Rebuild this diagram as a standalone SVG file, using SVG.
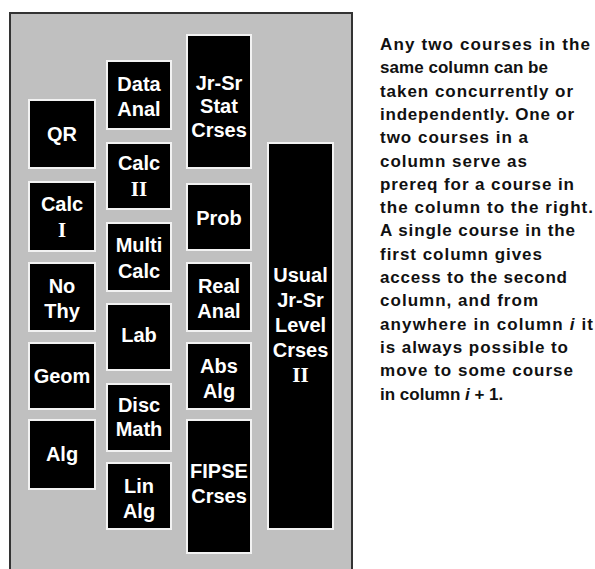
<svg xmlns="http://www.w3.org/2000/svg" width="595" height="569" viewBox="0 0 595 569">
<style>
.box{fill:#000;stroke:#f2f2f2;stroke-width:2}
.bt{fill:#fff;font-family:"Liberation Sans",Arial,sans-serif;font-weight:bold;font-size:20px;text-anchor:middle}
.rn{font-family:"Liberation Serif","Times New Roman",serif;font-weight:bold;font-size:21px}
.note{fill:#111;font-family:"Liberation Sans",Arial,sans-serif;font-weight:bold;font-size:17px}
</style>
<rect x="0" y="0" width="595" height="569" fill="#fff"/>
<rect id="frame" x="10" y="13" width="342" height="570" fill="#c0c0c0" stroke="#333" stroke-width="2"/>
<g id="connectors"></g>
<g id="QR"><rect class="box" x="29" y="100" width="66" height="68"/><text class="bt" x="62" y="141">QR</text></g>
<g id="CalcI"><rect class="box" x="29" y="182" width="66" height="69"/><text class="bt" x="62" y="211">Calc</text><text class="bt rn" x="62" y="237">I</text></g>
<g id="NoThy"><rect class="box" x="29" y="263" width="66" height="68"/><text class="bt" x="62" y="293">No</text><text class="bt" x="62" y="318">Thy</text></g>
<g id="Geom"><rect class="box" x="29" y="343" width="66" height="66"/><text class="bt" x="62" y="383">Geom</text></g>
<g id="Alg"><rect class="box" x="29" y="420" width="66" height="69"/><text class="bt" x="62" y="461">Alg</text></g>
<g id="DataAnal"><rect class="box" x="107" y="61" width="64" height="68"/><text class="bt" x="139" y="91">Data</text><text class="bt" x="139" y="116">Anal</text></g>
<g id="CalcII"><rect class="box" x="107" y="143" width="64" height="66"/><text class="bt" x="139" y="170">Calc</text><text class="bt rn" x="139" y="196">II</text></g>
<g id="MultiCalc"><rect class="box" x="107" y="223" width="64" height="68"/><text class="bt" x="139" y="252">Multi</text><text class="bt" x="139" y="278">Calc</text></g>
<g id="Lab"><rect class="box" x="107" y="304" width="64" height="66"/><text class="bt" x="139" y="342">Lab</text></g>
<g id="DiscMath"><rect class="box" x="107" y="384" width="64" height="67"/><text class="bt" x="139" y="412">Disc</text><text class="bt" x="139" y="436">Math</text></g>
<g id="LinAlg"><rect class="box" x="107" y="463" width="64" height="66"/><text class="bt" x="139" y="493">Lin</text><text class="bt" x="139" y="518">Alg</text></g>
<g id="JrSrStat"><rect class="box" x="187" y="35" width="64" height="133"/><text class="bt" x="219" y="90">Jr-Sr</text><text class="bt" x="219" y="113">Stat</text><text class="bt" x="219" y="137">Crses</text></g>
<g id="Prob"><rect class="box" x="187" y="184" width="64" height="66"/><text class="bt" x="219" y="225">Prob</text></g>
<g id="RealAnal"><rect class="box" x="187" y="263" width="64" height="68"/><text class="bt" x="219" y="293">Real</text><text class="bt" x="219" y="318">Anal</text></g>
<g id="AbsAlg"><rect class="box" x="187" y="343" width="64" height="66"/><text class="bt" x="219" y="373">Abs</text><text class="bt" x="219" y="398">Alg</text></g>
<g id="FIPSE"><rect class="box" x="187" y="420" width="64" height="133"/><text class="bt" x="219" y="478">FIPSE</text><text class="bt" x="219" y="503">Crses</text></g>
<g id="Usual"><rect class="box" x="268" y="143" width="65" height="386"/><text class="bt" x="300.5" y="282">Usual</text><text class="bt" x="300.5" y="307">Jr-Sr</text><text class="bt" x="300.5" y="332">Level</text><text class="bt" x="300.5" y="357">Crses</text><text class="bt rn" x="300.5" y="382">II</text></g>
<g id="note">
<text class="note" x="380" y="50" textLength="210" lengthAdjust="spacing">Any two courses in the</text>
<text class="note" x="380" y="73.3" textLength="168" lengthAdjust="spacing">same column can be</text>
<text class="note" x="380" y="96.6" textLength="193" lengthAdjust="spacing">taken concurrently or</text>
<text class="note" x="380" y="119.9" textLength="194" lengthAdjust="spacing">independently. One or</text>
<text class="note" x="380" y="143.2" textLength="148" lengthAdjust="spacing">two courses in a</text>
<text class="note" x="380" y="166.5" textLength="147" lengthAdjust="spacing">column serve as</text>
<text class="note" x="380" y="189.8" textLength="194" lengthAdjust="spacing">prereq for a course in</text>
<text class="note" x="380" y="213.1" textLength="213" lengthAdjust="spacing">the column to the right.</text>
<text class="note" x="380" y="236.4" textLength="195" lengthAdjust="spacing">A single course in the</text>
<text class="note" x="380" y="259.7" textLength="162" lengthAdjust="spacing">first column gives</text>
<text class="note" x="380" y="283" textLength="187" lengthAdjust="spacing">access to the second</text>
<text class="note" x="380" y="306.3" textLength="158" lengthAdjust="spacing">column, and from</text>
<text class="note" x="380" y="329.6" textLength="213" lengthAdjust="spacing">anywhere in column <tspan font-style="italic">i</tspan> it</text>
<text class="note" x="380" y="352.9" textLength="188" lengthAdjust="spacing">is always possible to</text>
<text class="note" x="380" y="376.2" textLength="193" lengthAdjust="spacing">move to some course</text>
<text class="note" x="380" y="399.5">in column <tspan font-style="italic">i</tspan> + 1.</text>
</g>
</svg>
